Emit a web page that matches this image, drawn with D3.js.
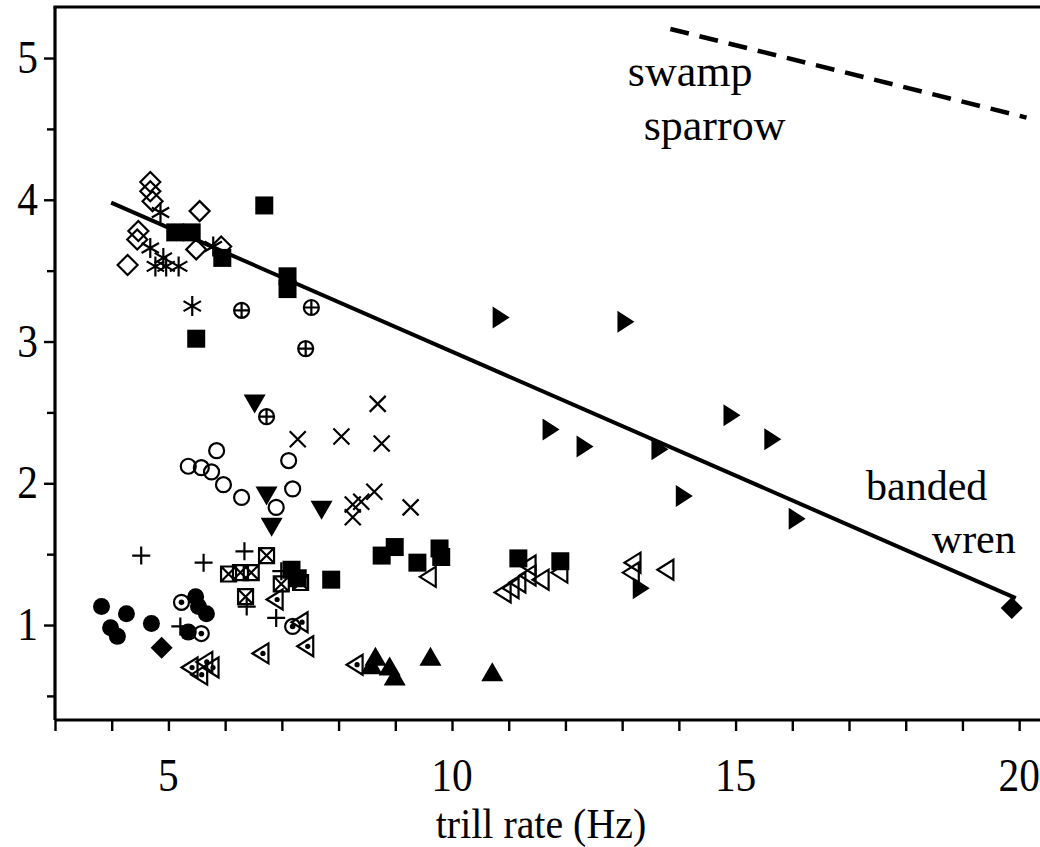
<!DOCTYPE html>
<html><head><meta charset="utf-8">
<script src="https://cdn.jsdelivr.net/npm/d3@7"></script>
<style>
body{margin:0;background:#fff}
text{font-family:"Liberation Serif","Times New Roman",serif;fill:#000}
</style>
</head><body>
<svg id="c" width="1040" height="847"></svg>
<script>
// ---- data (trill rate Hz, frequency bandwidth) ----
const xTickValues = [3,4,5,6,7,8,9,10,11,12,13,14,15,16,17,18,19,20];
const xTickLabels = [5,10,15,20];
const yTickLabels = [1,2,3,4,5];
const yMinorTicks = [0.5,1.5,2.5,3.5,4.5];

const openDiamond = [[4.68,4.125],[4.68,4.06],[4.72,3.99],[5.55,3.92],[4.47,3.78],[4.45,3.72],[4.28,3.54],[5.49,3.65],[5.93,3.67]];
const asterisk = [[4.86,3.91],[4.68,3.66],[4.91,3.59],[4.77,3.53],[4.96,3.53],[5.18,3.53],[5.79,3.67],[5.42,3.25]];
const filledSquare = [[5.12,3.77],[5.41,3.77],[5.95,3.59],[6.69,3.96],[7.10,3.46],[7.10,3.37],[5.49,3.02],[7.17,1.39],[7.28,1.33],[7.87,1.32],[8.76,1.49],[8.99,1.55],[9.39,1.44],[9.78,1.54],[9.81,1.48],[11.17,1.47],[11.91,1.45]];
const circlePlus = [[6.29,3.22],[7.52,3.24],[7.42,2.95],[6.73,2.47]];
const downTriangle = [[6.52,2.57],[6.73,1.92],[6.82,1.70],[7.70,1.82]];
const crossMark = [[8.69,2.56],[7.28,2.31],[8.05,2.33],[8.76,2.28],[8.63,1.94],[8.40,1.87],[8.25,1.85],[8.25,1.76],[9.27,1.83]];
const openCircle = [[5.35,2.12],[5.58,2.11],[5.76,2.08],[5.85,2.23],[5.97,1.99],[6.29,1.90],[6.90,1.83],[7.12,2.16],[7.19,1.96]];
const plusMark = [[4.52,1.49],[5.62,1.44],[6.34,1.52],[6.38,1.13],[6.90,1.05],[5.21,0.99],[6.99,1.38]];
const boxedCross = [[6.06,1.36],[6.27,1.37],[6.46,1.37],[6.73,1.49],[6.36,1.20],[6.99,1.29],[7.33,1.30]];
const filledCircle = [[3.82,1.13],[4.26,1.08],[3.98,0.98],[4.10,0.92],[4.70,1.01],[5.48,1.20],[5.53,1.13],[5.67,1.08],[5.35,0.95]];
const circleDot = [[5.23,1.16],[5.58,0.94],[7.19,0.99]];
const filledDiamond = [[4.88,0.84],[19.87,1.12]];
const leftTriangleDot = [[6.89,1.18],[7.33,1.02],[7.43,0.85],[6.64,0.80],[8.30,0.72],[5.39,0.70],[5.65,0.74],[5.76,0.70],[5.56,0.65]];
const upTriangle = [[8.65,0.77],[8.58,0.71],[8.90,0.70],[8.99,0.63],[9.62,0.77],[10.71,0.66]];
const leftTriangle = [[9.59,1.34],[10.91,1.23],[11.05,1.26],[11.17,1.30],[11.35,1.42],[11.35,1.35],[11.58,1.32],[11.91,1.37],[13.20,1.44],[13.17,1.37],[13.78,1.39]];
const rightTriangle = [[10.84,3.17],[13.04,3.14],[11.72,2.38],[12.32,2.26],[13.64,2.24],[14.91,2.48],[15.63,2.31],[14.07,1.91],[16.06,1.75],[13.31,1.26]];

const wrenLineX = [3.99,19.94];
const wrenLineY = [3.98,1.19];
const sparrowLineX = [13.85,20.13];
const sparrowLineY = [5.205,4.58];

const annotations = [
  {text:"swamp", x:13.1, y:4.80, size:44},
  {text:"sparrow", x:13.38, y:4.42, size:44},
  {text:"banded", x:17.3, y:1.88, size:42},
  {text:"wren", x:18.46, y:1.51, size:42}
];
const xAxisTitle = "trill rate (Hz)";

// ---- drawing ----
const svg = d3.select("#c");
const x = d3.scaleLinear().domain([3, 20.35]).range([55, 1039]);
const y = d3.scaleLinear().domain([0.33, 5.36]).range([720, 7]);

// axes
const xAxis = d3.axisBottom(x).tickValues(xTickValues).tickFormat("").tickSizeOuter(0).tickSize(11);
const gx = svg.append("g").attr("transform","translate(0,720)").call(xAxis);
const yAxis = d3.axisLeft(y).tickValues(yTickLabels).tickFormat("").tickSizeOuter(0).tickSize(11);
const gy = svg.append("g").attr("transform",`translate(${x(3)},0)`).call(yAxis);
const gyMinor = svg.append("g").attr("transform",`translate(${x(3)},0)`)
  .call(d3.axisLeft(y).tickValues(yMinorTicks).tickFormat("").tickSizeOuter(0).tickSize(8));
gyMinor.select(".domain").remove();
[gx,gy].forEach(g=>{
  g.select(".domain").attr("stroke","#000").attr("stroke-width",3.2);
});
gx.select(".domain").attr("d", `M${x(3)},0H1040`);
gy.select(".domain").attr("d", `M0,${y(0.33)}V${y(5.36)}`);
svg.selectAll(".tick line").attr("stroke","#000").attr("stroke-width",2.4);

// top border
svg.append("line").attr("x1",x(3)-1.6).attr("x2",1040).attr("y1",y(5.36)).attr("y2",y(5.36))
  .attr("stroke","#000").attr("stroke-width",3.2);

// tick labels (slightly condensed serif)
svg.selectAll(".xl").data(xTickLabels).join("text").attr("class","xl")
  .attr("transform",d=>`translate(${x(d)},791) scale(0.9,1)`)
  .attr("text-anchor","middle").attr("font-size",46).text(d=>d);
svg.selectAll(".yl").data(yTickLabels).join("text").attr("class","yl")
  .attr("transform",d=>`translate(38,${y(d)+15}) scale(0.9,1)`)
  .attr("text-anchor","end").attr("font-size",46).text(d=>d);
svg.append("text").attr("transform","translate(541,838) scale(0.95,1)")
  .attr("text-anchor","middle").attr("font-size",42).text(xAxisTitle);

// regression lines
const line = d3.line().x(d=>x(d[0])).y(d=>y(d[1]));
svg.append("path").attr("d", line(d3.zip(wrenLineX, wrenLineY)))
  .attr("stroke","#000").attr("stroke-width",4).attr("fill","none");
svg.append("path").attr("d", line(d3.zip(sparrowLineX, sparrowLineY)))
  .attr("stroke","#000").attr("stroke-width",4.5).attr("fill","none").attr("stroke-dasharray","19,11");

svg.selectAll(".ann").data(annotations).join("text").attr("class","ann")
  .attr("x",d=>x(d.x)).attr("y",d=>y(d.y)).attr("font-size",d=>d.size).text(d=>d.text);

// marker shapes
const circ = r => `M${r},0A${r},${r} 0 1 1 ${-r},0A${r},${r} 0 1 1 ${r},0Z`;
const shapes = {
  openDiamond: {d:"M0,-10L10,0L0,10L-10,0Z", fill:"none", stroke:2.2},
  asterisk: {d:"M0,-10V10M-8.7,-5L8.7,5M-8.7,5L8.7,-5", fill:"none", stroke:2.2},
  filledSquare: {d:"M-9,-9H9V9H-9Z", fill:"#000", stroke:0},
  circlePlus: {d:circ(7.5)+"M-7.5,0H7.5M0,-7.5V7.5", fill:"none", stroke:2.2},
  downTriangle: {d:"M0,11L11,-8L-11,-8Z", fill:"#000", stroke:0},
  crossMark: {d:"M-8,-8L8,8M-8,8L8,-8", fill:"none", stroke:2.2},
  openCircle: {d:circ(7.5), fill:"none", stroke:2.2},
  plusMark: {d:"M-9,0H9M0,-9V9", fill:"none", stroke:2.2},
  boxedCross: {d:"M-7.5,-7.5H7.5V7.5H-7.5ZM-7.5,-7.5L7.5,7.5M-7.5,7.5L7.5,-7.5", fill:"none", stroke:2.2},
  filledCircle: {d:circ(8.5), fill:"#000", stroke:0},
  circleDot: {d:circ(7.5), fill:"none", stroke:2.2, dot:2.8},
  filledDiamond: {d:"M0,-11L11,0L0,11L-11,0Z", fill:"#000", stroke:0},
  leftTriangleDot: {d:"M-9,0L7,-10L7,10Z", fill:"none", stroke:2.2, dot:2.6, dotx:1.5},
  upTriangle: {d:"M0,-11L11,8L-11,8Z", fill:"#000", stroke:0},
  leftTriangle: {d:"M-9,0L7,-10L7,10Z", fill:"none", stroke:2.2},
  rightTriangle: {d:"M10,0L-7,-11L-7,11Z", fill:"#000", stroke:0}
};
const series = {openDiamond, asterisk, filledSquare, circlePlus, downTriangle, crossMark, openCircle,
  plusMark, boxedCross, filledCircle, circleDot, filledDiamond, leftTriangleDot, upTriangle, leftTriangle, rightTriangle};

Object.entries(series).forEach(([name, pts])=>{
  const s = shapes[name];
  const g = svg.append("g").attr("class", name);
  const m = g.selectAll("g").data(pts).join("g")
    .attr("transform", d=>`translate(${x(d[0])},${y(d[1])})`);
  m.append("path").attr("d", s.d).attr("fill", s.fill)
    .attr("stroke", s.stroke ? "#000" : "none").attr("stroke-width", s.stroke);
  if (s.dot) m.append("circle").attr("cx", s.dotx||0).attr("r", s.dot).attr("fill","#000");
});
</script>
</body></html>
